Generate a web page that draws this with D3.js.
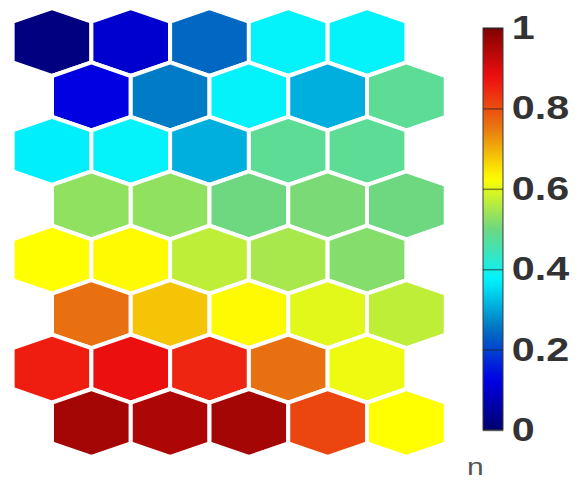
<!DOCTYPE html>
<html>
<head>
<meta charset="utf-8">
<script src="https://cdn.jsdelivr.net/npm/d3@7"></script>
<style>
  html, body { margin: 0; padding: 0; background: #fff; }
  svg { display: block; }
</style>
</head>
<body>
<svg id="chart" width="579" height="485"></svg>
<script>
// SOM component plane: 8 rows x 5 columns of hexagonal units
const rows = [0, 1, 2, 3, 4, 5, 6, 7];
const cols = [0, 1, 2, 3, 4];
const row0 = [0.02, 0.10, 0.24, 0.38, 0.38];
const row1 = [0.12, 0.26, 0.38, 0.31, 0.48];
const row2 = [0.37, 0.38, 0.31, 0.48, 0.48];
const row3 = [0.53, 0.53, 0.50, 0.51, 0.50];
const row4 = [0.625, 0.63, 0.57, 0.55, 0.52];
const row5 = [0.76, 0.68, 0.63, 0.60, 0.57];
const row6 = [0.86, 0.88, 0.85, 0.76, 0.61];
const row7 = [0.96, 0.95, 0.96, 0.81, 0.625];
const values = [row0, row1, row2, row3, row4, row5, row6, row7];

// jet-style colour map
const stopValues = [0, 0.125, 0.25, 0.375, 0.5, 0.625, 0.75, 0.875, 1];
const stopColors = ["#00006e", "#0000e6", "#0070c0", "#00f4ff", "#6ed880",
                    "#ffff00", "#e87810", "#f01010", "#800000"];
const tickValues = [0, 0.2, 0.4, 0.6, 0.8, 1];
const barLabel = "n";

const color = d3.scaleLinear().domain(stopValues).range(stopColors)
  .interpolate(d3.interpolateRgb).clamp(true);

const svg = d3.select("#chart");

// grid placement (odd rows shifted by half a column)
const x = d3.scaleLinear().domain([0, 4.5]).range([52, 52 + 4.5 * 78.75]);
const y = d3.scaleLinear().domain([0, 7]).range([42, 423]);
const colStep = x(1) - x(0);
const rowStep = y(1) - y(0);
const halfW = colStep / 2;
const tipH = 34;               // centre to top vertex
const sideH = rowStep - tipH;  // centre to shoulder vertex

const hexPath = d3.line()([
  [0, -tipH], [halfW, -sideH], [halfW, sideH],
  [0, tipH], [-halfW, sideH], [-halfW, -sideH]
]) + "Z";

const cells = [];
rows.forEach(r => cols.forEach(c => cells.push({ r, c, v: values[r][c] })));

svg.append("g")
  .selectAll("path")
  .data(cells)
  .join("path")
  .attr("transform", d => `translate(${x(d.c + (d.r % 2 ? 0.5 : 0))},${y(d.r)})`)
  .attr("d", hexPath)
  .attr("fill", d => color(d.v))
  .attr("stroke", "#fff")
  .attr("stroke-width", 4)
  .attr("stroke-linejoin", "round");

// colour bar
const barX = 483, barW = 20;
const cy = d3.scaleLinear().domain([0, 1]).range([430, 28]);

const defs = svg.append("defs");
const grad = defs.append("linearGradient")
  .attr("id", "barGrad")
  .attr("x1", 0).attr("y1", 1).attr("x2", 0).attr("y2", 0);
grad.selectAll("stop")
  .data(d3.range(0, 1.0001, 0.02))
  .join("stop")
  .attr("offset", d => d)
  .attr("stop-color", d => color(d));

svg.append("rect")
  .attr("x", barX).attr("y", cy(1))
  .attr("width", barW).attr("height", cy(0) - cy(1))
  .attr("fill", "url(#barGrad)")
  .attr("stroke", "#3a3a3a").attr("stroke-width", 1);

const axis = d3.axisRight(cy)
  .tickValues(tickValues)
  .tickFormat(d3.format(""))
  .tickSize(-barW)
  .tickPadding(7);

const ax = svg.append("g")
  .attr("transform", `translate(${barX + barW},0)`)
  .call(axis);
ax.select(".domain").remove();
ax.selectAll(".tick line")
  .attr("stroke", "#222").attr("stroke-opacity", 0.55).attr("stroke-width", 1.5);
ax.selectAll(".tick text")
  .attr("transform", "scale(1.25,1)")
  .attr("fill", "#333")
  .style("font-family", "'Liberation Sans', Arial, sans-serif")
  .style("font-weight", "bold")
  .style("font-size", "33px");

svg.append("text")
  .attr("transform", "translate(467,475) scale(1.25,1)")
  .attr("fill", "#555")
  .style("font-family", "'Liberation Sans', Arial, sans-serif")
  .style("font-size", "24px")
  .text(barLabel);
</script>
</body>
</html>
